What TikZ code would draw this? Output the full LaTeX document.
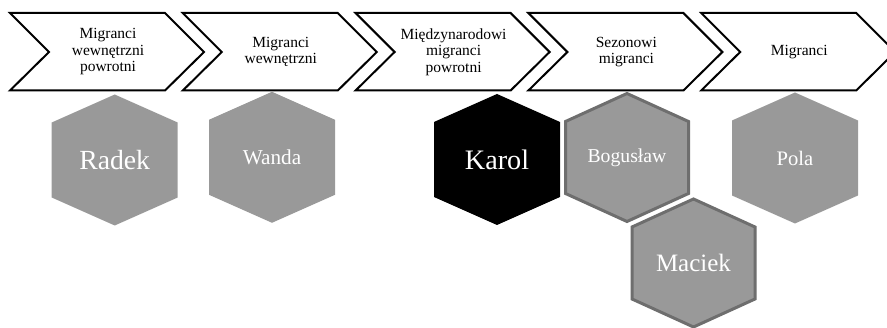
\documentclass[tikz,border=0pt]{standalone}
\usepackage{fontspec}
\setmainfont{Liberation Serif}
\newfontfamily\tnr{Liberation Serif}
\definecolor{hexgray}{HTML}{999999}
\definecolor{hexborder}{HTML}{6E6E6E}
\tikzset{
  chev/.style={draw=black, fill=white, line width=2pt, miter limit=10},
  chevtext/.style={align=center, font=\tnr\fontsize{15.5}{16.5}\selectfont, inner sep=0pt},
  hexfill/.style={fill=hexgray},
  hexbold/.style={fill=hexgray, draw=hexborder, line width=3pt},
  hexblack/.style={fill=black},
  hextext/.style={text=white, inner sep=0pt},
}
\newcommand{\hexpath}[2]{% center name, inset
  (#1) ++(0,-65.5+#2) -- ++(63-#2,28) -- ++(0,75-2*#2) -- ++(-63+#2,28) -- ++(-63+#2,-28) -- ++(0,-75+2*#2) -- cycle}
\begin{document}
\begin{tikzpicture}[x=1pt,y=-1pt]
\useasboundingbox (0,0) rectangle (887,328);
% chevrons
\foreach \i/\txt in {0/{Migranci\\wewnętrzni\\powrotni},1/{Migranci\\wewnętrzni},2/{Międzynarodowi\\migranci\\powrotni},3/{Sezonowi\\migranci},4/{Migranci}}{
  \pgfmathsetmacro{\L}{10+172.8*\i}
  \draw[chev] (\L,13) -- (\L+155,13) -- (\L+194,52) -- (\L+155,90.5) -- (\L,90.5) -- (\L+39,52) -- cycle;
  \node[chevtext] (c\i) at (\L+98,52) {\txt};
}
% hexagon centres
\coordinate (radek) at (114.7,160);
\coordinate (wanda) at (272,157.3);
\coordinate (karol) at (497,159.5);
\coordinate (boguslaw) at (627,157.5);
\coordinate (pola) at (795,158);
\coordinate (maciek) at (693.5,263);
% hexagons
\path[hexfill] \hexpath{radek}{0};
\path[hexfill] \hexpath{wanda}{0};
\path[hexblack] \hexpath{karol}{0};
\path[hexfill] \hexpath{pola}{0};
\draw[hexbold] \hexpath{boguslaw}{1.5};
\draw[white, line width=1pt] \hexpath{maciek}{-0.5};
\draw[hexbold] \hexpath{maciek}{1.5};
% names
\node[hextext, font=\tnr\fontsize{27.7}{30}\selectfont] (radekT) at (radek) {Radek};
\node[hextext, font=\tnr\fontsize{21.2}{24}\selectfont] (wandaT) at (wanda) {Wanda};
\node[hextext, font=\tnr\fontsize{28.2}{30}\selectfont] (karolT) at (karol) {Karol};
\node[hextext, font=\tnr\fontsize{19.7}{22}\selectfont] (boguslawT) at (boguslaw) {Bogusław};
\node[hextext, font=\tnr\fontsize{20.6}{23}\selectfont] (polaT) at (pola) {Pola};
\node[hextext, font=\tnr\fontsize{25}{28}\selectfont] (maciekT) at (maciek) {Maciek};
\end{tikzpicture}
\end{document}
